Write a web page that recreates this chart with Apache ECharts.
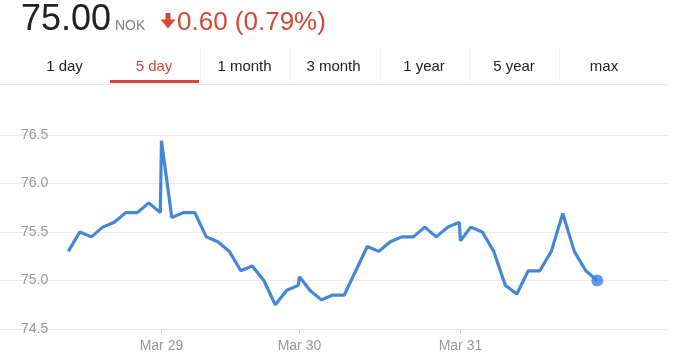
<!DOCTYPE html>
<html>
<head>
<meta charset="utf-8">
<script src="https://cdn.jsdelivr.net/npm/echarts@6/dist/echarts.min.js"></script>
<style>
html,body{margin:0;padding:0;background:#fff;}
#chart{width:678px;height:356px;}
</style>
</head>
<body>
<div id="chart"></div>
<script>
// step positions (trading intervals); day opens sit just after the previous close
var positions = [0,1,2,3,4,5,6,7,8,
  8.1,9,10,11,12,13,14,15,16,17,18,19,20,
  20.1,21,22,23,24,26,27,28,29,30,31,32,33,34,
  34.1,35,36,37,38,39,40,41,42,43,44,45,46];
var prices = [75.30,75.50,75.45,75.55,75.60,75.70,75.70,75.80,75.70,
  76.44,75.65,75.70,75.70,75.45,75.40,75.30,75.10,75.15,75.00,74.75,74.90,74.95,
  75.04,74.90,74.80,74.85,74.85,75.35,75.30,75.40,75.45,75.45,75.55,75.45,75.55,75.60,
  75.41,75.55,75.50,75.30,74.95,74.86,75.10,75.10,75.30,75.69,75.30,75.10,75.00];
var dayTicks = [8.1,20.1,34.1];
var dayLabels = ['Mar 29','Mar 30','Mar 31'];
var yTicks = [74.5,75.0,75.5,76.0,76.5];
var tabs = ['1 day','5 day','1 month','3 month','1 year','5 year','max'];
var tabCenters = [64.5,154,244.5,333.5,424,514,604];
var price = '75.00', currency = 'NOK', change = '0.60 (0.79%)';

var chart = echarts.init(document.getElementById('chart'));
var seriesData = positions.map(function(p,i){return [p,prices[i]];});
var last = seriesData[seriesData.length-1];
var FONT = '"Liberation Sans", Arial, sans-serif';

var graphics = [
  {type:'text',x:21,y:20,style:{text:price,font:'36px '+FONT,fill:'#222',verticalAlign:'middle'}},
  {type:'text',x:115,y:25.7,style:{text:currency,font:'14px '+FONT,fill:'#808080',verticalAlign:'middle'}},
  {type:'polygon',shape:{points:[[165.5,13],[170.5,13],[170.5,19.5],[175.5,19.5],[168,28.5],[160.5,19.5],[165.5,19.5]]},style:{fill:'#d14836'}},
  {type:'text',x:177,y:22.4,style:{text:change,font:'26px '+FONT,fill:'#d14836',verticalAlign:'middle'}},
  {type:'line',shape:{x1:0,y1:84.5,x2:668,y2:84.5},style:{stroke:'#e5e5e5',lineWidth:1}},
  {type:'rect',shape:{x:110,y:80,width:89,height:3},style:{fill:'#d14836'}}
];
[200,290,380,469,559].forEach(function(x){
  graphics.push({type:'line',shape:{x1:x+0.5,y1:48,x2:x+0.5,y2:82},style:{stroke:'#f3f3f3',lineWidth:1}});
});
tabs.forEach(function(t,i){
  graphics.push({type:'text',x:tabCenters[i],y:66.4,style:{text:t,font:'15px '+FONT,fill:i===1?'#d14836':'#222',align:'center',verticalAlign:'middle'}});
});

chart.setOption({
  animation:false,
  grid:{left:0,right:10,top:135,bottom:27,outerBoundsMode:'none'},
  xAxis:{
    type:'value',min:-5.94,max:52.15,
    splitLine:{show:false},
    axisLine:{show:true,lineStyle:{color:'#e6e6e6'}},
    axisTick:{show:true,customValues:dayTicks,length:5,lineStyle:{color:'#d5d5d5'}},
    axisLabel:{customValues:dayTicks,margin:10,fontSize:14,color:'#999',fontFamily:FONT,
      formatter:function(v){var i=dayTicks.indexOf(v);return i>=0?dayLabels[i]:'';}}
  },
  yAxis:{
    type:'value',min:yTicks[0],max:yTicks[yTicks.length-1],interval:0.5,
    axisLine:{show:false},axisTick:{show:false},
    splitLine:{lineStyle:{color:'#ebebeb'}},
    axisLabel:{inside:true,margin:21,fontSize:14,color:'#999',fontFamily:FONT,
      formatter:function(v){return v.toFixed(1);}}
  },
  graphic:graphics,
  series:[
    {type:'line',data:seriesData,symbol:'none',lineStyle:{color:'#4586d9',width:3.2},z:3},
    {type:'scatter',data:[last],symbolSize:12,itemStyle:{color:'#3d82e0'},z:4}
  ]
});
</script>
</body>
</html>
